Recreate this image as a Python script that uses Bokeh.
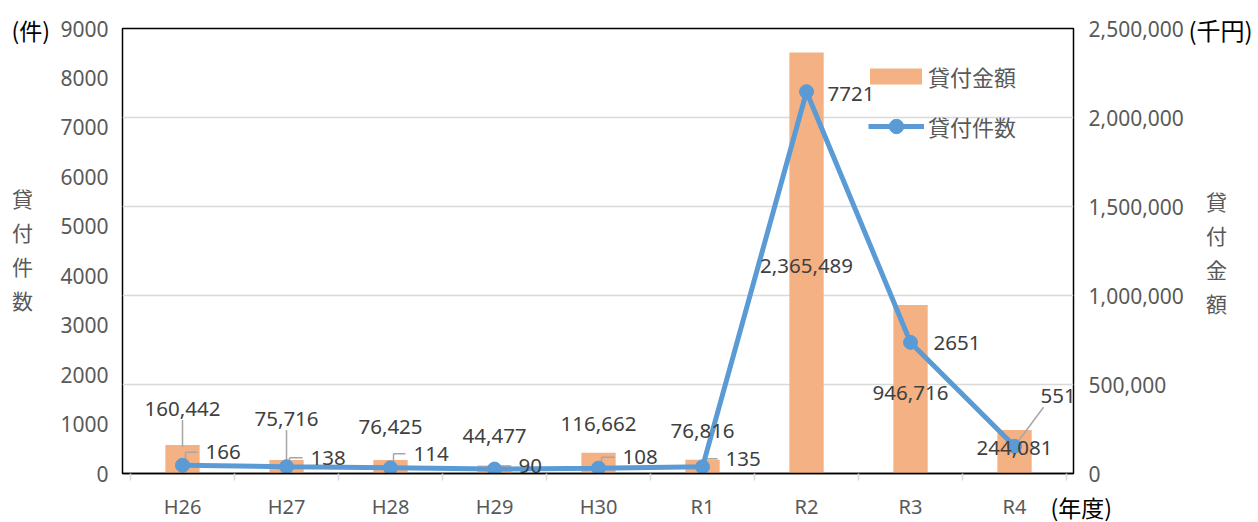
from bokeh.plotting import figure
from bokeh.models import (Range1d, LinearAxis, FixedTicker, NumeralTickFormatter,
                          Legend, LegendItem, ColumnDataSource)
from bokeh.embed import file_html
from bokeh.resources import INLINE
from bokeh.core.properties import value

# ---- data ----
years = ["H26", "H27", "H28", "H29", "H30", "R1", "R2", "R3", "R4"]
counts = [166, 138, 114, 90, 108, 135, 7721, 2651, 551]
amounts = [160442, 75716, 76425, 44477, 116662, 76816, 2365489, 946716, 244081]
left_ticks = [0, 1000, 2000, 3000, 4000, 5000, 6000, 7000, 8000, 9000]
right_ticks = [0, 500000, 1000000, 1500000, 2000000, 2500000]

# ---- layout (label offsets in px) ----
amt_dy = [-36, -41, -33, -30, -29, -29, 214, 88, 18]
cnt_dx = [23, 24, 23, 24, 24, 23, 21, 23, 26]
cnt_dy = [-13, -9, -14, -3, -11, -8, 2, 1, -50]

NUM_FONT = "Noto Sans"
CJK_FONT = "Noto Sans CJK JP"
GRAY = "#595959"
DARK = "#404040"
ORANGE = "#f4b183"
BLUE = "#5b9bd5"

W, H = 1258, 522
FL, FR, FT, FB = 122, 1073, 28, 473      # frame edges in page px
X0, X1 = -0.077, 9.067
x_px = (X1 - X0) / (FR - FL)
cnt_px = left_ticks[-1] / (FB - FT)
amt_px = right_ticks[-1] / (FB - FT)

xc = [i + 0.5 for i in range(len(years))]

p = figure(width=W, height=H, x_range=Range1d(X0, X1),
           y_range=Range1d(left_ticks[0], left_ticks[-1]),
           output_backend="svg", toolbar_location=None,
           min_border_left=FL, min_border_right=W - FR, min_border_top=FT, min_border_bottom=H - FB)
p.extra_y_ranges = {"amt": Range1d(right_ticks[0], right_ticks[-1])}
p.background_fill_color = "white"
p.border_fill_color = "white"
p.outline_line_color = "black"
p.outline_line_width = 1.5

# grid follows right axis
p.xgrid.visible = False
p.ygrid.ticker = FixedTicker(ticks=right_ticks)
p.ygrid.y_range_name = "amt"
p.ygrid.grid_line_color = "#d9d9d9"
p.ygrid.grid_line_width = 1.5

# x axis
xa = p.xaxis[0]
xa.ticker = FixedTicker(ticks=xc, minor_ticks=list(range(len(years) + 1)))
xa.major_label_overrides = {xc[i]: years[i] for i in range(len(years))}
xa.major_tick_line_color = None
xa.major_tick_out = 0
xa.major_tick_in = 0
xa.minor_tick_line_color = "#d9d9d9"
xa.minor_tick_line_width = 1.5
xa.minor_tick_out = 7
xa.minor_tick_in = 0
xa.axis_line_color = "black"
xa.axis_line_width = 1.5
xa.major_label_text_font = NUM_FONT
xa.major_label_text_font_size = "20px"
xa.major_label_text_color = GRAY
xa.major_label_standoff = 12

# left axis
ya = p.yaxis[0]
ya.ticker = FixedTicker(ticks=left_ticks)
ya.axis_line_color = None
ya.major_tick_line_color = None
ya.minor_tick_line_color = None
ya.major_tick_out = 0
ya.major_label_text_font = NUM_FONT
ya.major_label_text_font_size = "21px"
ya.major_label_text_color = GRAY
ya.major_label_standoff = 14

# right axis
ra = LinearAxis(y_range_name="amt", ticker=FixedTicker(ticks=right_ticks),
                formatter=NumeralTickFormatter(format="0,0"))
ra.axis_line_color = None
ra.major_tick_line_color = None
ra.minor_tick_line_color = None
ra.major_tick_out = 0
ra.major_label_text_font = NUM_FONT
ra.major_label_text_font_size = "21px"
ra.major_label_text_color = GRAY
ra.major_label_standoff = 15
p.add_layout(ra, "right")

src = ColumnDataSource(dict(x=xc, year=years, cnt=counts, amt=amounts,
                            amt_lbl=[f"{a:,}" for a in amounts],
                            cnt_lbl=[str(c) for c in counts],
                            amt_dy=amt_dy, cnt_dx=cnt_dx, cnt_dy=cnt_dy))

bars = p.vbar(x="x", top="amt", width=0.33, source=src, y_range_name="amt",
              fill_color=ORANGE, line_color=None)

# leader lines
lx0, ly0, lx1, ly1 = [], [], [], []
for i in range(2):
    lx0.append(xc[i]); lx1.append(xc[i])
    ly0.append(amounts[i] - (amt_dy[i] + 11) * amt_px)
    ly1.append(amounts[i] - 2 * amt_px)
p.segment(x0=lx0, y0=ly0, x1=lx1, y1=ly1, y_range_name="amt",
          line_color="#a6a6a6", line_width=1.5)

cx0, cy0, cx1, cy1 = [], [], [], []
for i in range(6):
    xv = xc[i] + 3 * x_px
    yl = counts[i] - cnt_dy[i] * cnt_px
    cx0.append(xv); cy0.append(counts[i] - 6 * cnt_px); cx1.append(xv); cy1.append(yl)
    cx0.append(xv); cy0.append(yl); cx1.append(xc[i] + (cnt_dx[i] - 8) * x_px); cy1.append(yl)
i = 8
cx0.append(xc[i] + 3 * x_px); cy0.append(counts[i] + 4 * cnt_px)
cx1.append(xc[i] + 29 * x_px); cy1.append(counts[i] + 39 * cnt_px)
p.segment(x0=cx0, y0=cy0, x1=cx1, y1=cy1, line_color="#a6a6a6", line_width=1.5)

line = p.line(x="x", y="cnt", source=src, line_color=BLUE, line_width=5)
pts = p.scatter(x="x", y="cnt", source=src, size=14, fill_color=BLUE, line_color=BLUE)

# data labels
p.text(x="x", y="amt", text="amt_lbl", source=src, y_range_name="amt",
       y_offset="amt_dy", text_align="center", text_baseline="middle",
       text_font=value(NUM_FONT), text_font_size="20.5px", text_color=DARK)
p.text(x="x", y="cnt", text="cnt_lbl", source=src,
       x_offset="cnt_dx", y_offset="cnt_dy", text_align="left", text_baseline="middle",
       text_font=value(NUM_FONT), text_font_size="20.5px", text_color=DARK)

def style_legend(lg):
    lg.label_text_font = CJK_FONT
    lg.label_text_font_size = "22px"
    lg.label_text_color = GRAY
    lg.padding = 0
    lg.margin = 0
    lg.border_line_color = None
    lg.background_fill_alpha = 0

leg_a = Legend(items=[LegendItem(label="貸付金額", renderers=[bars])], location=(741, 381))
style_legend(leg_a)
leg_a.glyph_width = 65
leg_a.glyph_height = 20
leg_a.label_standoff = 0
p.add_layout(leg_a)

leg_b = Legend(items=[LegendItem(label="貸付件数", renderers=[line, pts])], location=(746, 329))
style_legend(leg_b)
leg_b.glyph_width = 56
leg_b.glyph_height = 36
leg_b.label_standoff = 4
p.add_layout(leg_b)

# outer texts (placed in page px, converted to data units, drawn above clipping)
def lab(cx, cy, t, color=GRAY, size="21px", align="left"):
    p.text(x=[X0 + (cx - FL) * x_px], y=[(FB - cy) * cnt_px], text=[t],
           text_font=value(CJK_FONT), text_font_size=size, text_color=color,
           text_align=align, text_baseline="middle", level="overlay")

lab(11, 29, "(件)", color="black", size="23px")
lab(1188, 29, "(千円)", color="black", size="24px")
lab(1050, 506, "(年度)", color="black", size="23px")
for k, ch in enumerate("貸付件数"):
    lab(22, 197 + 34 * k, ch, align="center")
for k, ch in enumerate("貸付金額"):
    lab(1216, 200 + 34 * k, ch, align="center")

open("out.html", "w").write(file_html(p, INLINE))
